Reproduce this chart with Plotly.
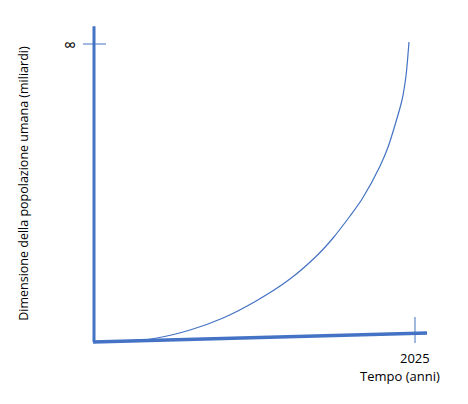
import plotly.graph_objects as go

# Exponential growth curve (years, population units; top of axis = "∞" at 10)
curve_years = [0, 164, 397, 606, 814, 1028, 1236, 1407, 1508, 1615, 1691, 1804, 1855, 1899, 1943, 1968, 1987]
curve_values = [0, 0.010, 0.134, 0.403, 0.805, 1.393, 2.114, 2.903, 3.490, 4.228, 4.799, 5.900,
                6.544, 7.282, 8.121, 8.926, 10.067]

# Hand-drawn axes
yaxis_line_x = [0, 0]
yaxis_line_y = [0, 10.6]
xaxis_line_x = [-6, 2101]
xaxis_line_y = [0, 0.30]

# Ticks
inf_tick_x = [-69, 76]
inf_tick_y = [10, 10]
year_tick_x = [2025, 2025]
year_tick_y = [-0.034, 0.839]

tick_label_year = "2025"
tick_label_inf = "∞"
x_title = "Tempo (anni)"
y_title = "Dimensione della popolazione umana (miliardi)"

BLUE = "#4472C4"
FONT = "Open Sans"

fig = go.Figure()
fig.add_trace(go.Scatter(x=curve_years, y=curve_values, mode="lines",
                         line=dict(color=BLUE, width=1.2, shape="spline", smoothing=0.8), hoverinfo="skip"))
fig.add_trace(go.Scatter(x=yaxis_line_x, y=yaxis_line_y, mode="lines",
                         line=dict(color=BLUE, width=3), hoverinfo="skip"))
fig.add_trace(go.Scatter(x=xaxis_line_x, y=xaxis_line_y, mode="lines",
                         line=dict(color=BLUE, width=3.5), hoverinfo="skip"))
fig.add_trace(go.Scatter(x=inf_tick_x, y=inf_tick_y, mode="lines",
                         line=dict(color=BLUE, width=1), hoverinfo="skip"))
fig.add_trace(go.Scatter(x=year_tick_x, y=year_tick_y, mode="lines",
                         line=dict(color=BLUE, width=1), hoverinfo="skip"))

fig.add_annotation(x=-151, y=10, text=tick_label_inf, showarrow=False, borderpad=0,
                   xanchor="center", yanchor="middle", font=dict(family=FONT, size=17, color="black"))
fig.add_annotation(x=2025, y=-0.537, text=tick_label_year, showarrow=False, borderpad=0,
                   xanchor="center", yanchor="middle", font=dict(family=FONT, size=13, color="black"))
fig.add_annotation(x=1930, y=-1.141, text=x_title, showarrow=False, borderpad=0,
                   xanchor="center", yanchor="middle", font=dict(family=FONT, size=13, color="black"))
fig.add_annotation(x=-442, y=5.34, text=y_title, showarrow=False, textangle=-90, borderpad=0,
                   xanchor="center", yanchor="middle", font=dict(family=FONT, size=12.5, color="black"))

fig.update_layout(
    width=468, height=404,
    margin=dict(l=0, r=0, t=0, b=0),
    paper_bgcolor="white", plot_bgcolor="white",
    showlegend=False,
    xaxis=dict(range=[-593, 2359.3], visible=False, fixedrange=True),
    yaxis=dict(range=[-2.081, 11.477], visible=False, fixedrange=True),
)

fig.write_html("out.html", config={"displayModeBar": False},
               post_script="document.body.style.margin='0';")
